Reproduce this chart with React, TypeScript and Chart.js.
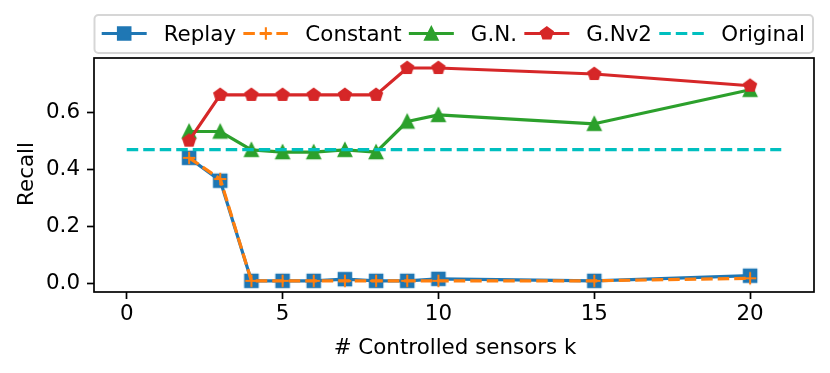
import React, { useEffect, useRef } from "react";
import { Chart, registerables } from "chart.js";

Chart.register(...registerables);

// ---------- data ----------
const kValues = [2, 3, 4, 5, 6, 7, 8, 9, 10, 15, 20];
const replayRecall = [0.44, 0.36, 0.01, 0.01, 0.01, 0.016, 0.01, 0.01, 0.017, 0.01, 0.028];
const constantRecall = [0.44, 0.366, 0.01, 0.01, 0.01, 0.01, 0.01, 0.01, 0.01, 0.01, 0.019];
const gnRecall = [0.532, 0.532, 0.468, 0.46, 0.46, 0.468, 0.46, 0.567, 0.59, 0.559, 0.678];
const gnv2Recall = [0.50, 0.66, 0.66, 0.66, 0.66, 0.66, 0.66, 0.754, 0.754, 0.733, 0.692];
const originalK = [0, 21];
const originalRecall = 0.469;
const xTicks = [0, 5, 10, 15, 20];
const yTicks = [0, 0.2, 0.4, 0.6];
const seriesNames = ["Replay", "Constant", "G.N.", "G.Nv2", "Original"];
const xTitle = "# Controlled sensors k";
const yTitle = "Recall";

// ---------- style ----------
const FF = "'DejaVu Sans', sans-serif";
const FS = 21.4;
const LW = 3.2;
const DASH = [11.5, 5];
const COLORS = ["#1f77b4", "#ff7f0e", "#2ca02c", "#d62728", "#00bfbf"];
const MS = 12.5; // marker size
const MEW = 2.08; // marker edge width

type MarkerKind = "square" | "plus" | "triangle" | "pentagon" | "none";
const MARKERS: MarkerKind[] = ["square", "plus", "triangle", "pentagon", "none"];

function drawMarkerPath(ctx: CanvasRenderingContext2D, kind: MarkerKind, cx: number, cy: number, color: string) {
  const h = MS / 2;
  ctx.save();
  ctx.fillStyle = color;
  ctx.strokeStyle = color;
  ctx.lineWidth = MEW;
  ctx.lineJoin = "miter";
  ctx.lineCap = "butt";
  ctx.beginPath();
  if (kind === "square") {
    ctx.rect(cx - h, cy - h, MS, MS);
    ctx.fill();
    ctx.stroke();
  } else if (kind === "triangle") {
    ctx.moveTo(cx, cy - h);
    ctx.lineTo(cx - h, cy + h);
    ctx.lineTo(cx + h, cy + h);
    ctx.closePath();
    ctx.fill();
    ctx.stroke();
  } else if (kind === "pentagon") {
    for (let i = 0; i < 5; i++) {
      const a = -Math.PI / 2 + (i * 2 * Math.PI) / 5;
      const px = cx + h * Math.cos(a);
      const py = cy + h * Math.sin(a);
      if (i === 0) ctx.moveTo(px, py);
      else ctx.lineTo(px, py);
    }
    ctx.closePath();
    ctx.fill();
    ctx.stroke();
  } else if (kind === "plus") {
    ctx.moveTo(cx - h, cy);
    ctx.lineTo(cx + h, cy);
    ctx.moveTo(cx, cy - h);
    ctx.lineTo(cx, cy + h);
    ctx.stroke();
  }
  ctx.restore();
}

function makeMarkerCanvas(kind: MarkerKind, color: string): HTMLCanvasElement {
  const c = document.createElement("canvas");
  c.width = 24;
  c.height = 24;
  const ctx = c.getContext("2d")!;
  drawMarkerPath(ctx, kind, 12, 12, color);
  return c;
}

const decorPlugin = {
  id: "decor",
  afterDraw(chart: any) {
    const { ctx, chartArea: a } = chart;
    ctx.save();
    // frame (spines)
    ctx.strokeStyle = "#000";
    ctx.lineWidth = 1.7;
    ctx.strokeRect(a.left, a.top, a.right - a.left, a.bottom - a.top);

    // axis titles
    ctx.fillStyle = "#000";
    ctx.font = `${FS}px ${FF}`;
    ctx.textAlign = "center";
    ctx.textBaseline = "alphabetic";
    ctx.fillText(xTitle, (a.left + a.right) / 2 + 1, 354);
    ctx.save();
    ctx.translate(33, (a.top + a.bottom) / 2 - 1);
    ctx.rotate(-Math.PI / 2);
    ctx.fillText(yTitle, 0, 0);
    ctx.restore();

    // legend
    const boxL = 94.5, boxR = 813, boxT = 15, boxB = 53;
    ctx.fillStyle = "rgba(255,255,255,0.8)";
    ctx.strokeStyle = "rgba(204,204,204,0.8)";
    ctx.lineWidth = 2;
    ctx.beginPath();
    (ctx as any).roundRect(boxL, boxT, boxR - boxL, boxB - boxT, 4);
    ctx.fill();
    ctx.stroke();

    const handleLen = 45;
    const textOff = 62;
    const startX = 101.7;
    const endX = 805;
    const widths = seriesNames.map((n) => ctx.measureText(n).width);
    const total = widths.reduce((s, w) => s + w + textOff, 0);
    const gap = (endX - startX - total) / (seriesNames.length - 1);
    const hy = 33.5;
    let x = startX;
    seriesNames.forEach((name, i) => {
      const color = COLORS[i];
      ctx.save();
      ctx.strokeStyle = color;
      ctx.lineWidth = LW;
      const dashed = i === 1 || i === 4;
      ctx.setLineDash(dashed ? DASH : []);
      ctx.lineCap = "butt";
      ctx.beginPath();
      ctx.moveTo(x, hy);
      ctx.lineTo(x + handleLen, hy);
      ctx.stroke();
      ctx.restore();
      if (MARKERS[i] !== "none") drawMarkerPath(ctx, MARKERS[i], x + handleLen / 2, hy, color);
      ctx.fillStyle = "#000";
      ctx.textAlign = "left";
      ctx.textBaseline = "alphabetic";
      ctx.fillText(name, x + textOff, 40.5);
      x += textOff + widths[i] + gap;
    });
    ctx.restore();
  },
};

export default function App() {
  const ref = useRef<HTMLCanvasElement | null>(null);

  useEffect(() => {
    document.body.style.margin = "0";
    const canvas = ref.current!;
    const seriesValues = [replayRecall, constantRecall, gnRecall, gnv2Recall];
    const datasets: any[] = seriesValues.map((vals, i) => ({
      label: seriesNames[i],
      data: kValues.map((k, j) => ({ x: k, y: vals[j] })),
      borderColor: COLORS[i],
      backgroundColor: COLORS[i],
      borderWidth: LW,
      borderDash: i === 1 ? DASH : [],
      borderJoinStyle: "round",
      borderCapStyle: "butt",
      pointStyle: makeMarkerCanvas(MARKERS[i], COLORS[i]),
      pointRadius: 7,
      tension: 0,
      order: 5 - i,
      clip: false,
    }));
    datasets.push({
      label: seriesNames[4],
      data: originalK.map((k) => ({ x: k, y: originalRecall })),
      borderColor: COLORS[4],
      backgroundColor: COLORS[4],
      borderWidth: LW,
      borderDash: DASH,
      borderCapStyle: "butt",
      pointRadius: 0,
      order: 1,
      clip: false,
    });

    const tickFont = { family: FF, size: FS };
    const chart = new Chart(canvas, {
      type: "line",
      data: { datasets },
      options: {
        animation: false,
        responsive: false,
        devicePixelRatio: 1,
        events: [],
        layout: { padding: { left: 0, right: 16, top: 58, bottom: 0 } },
        plugins: { legend: { display: false }, tooltip: { enabled: false }, title: { display: false } },
        scales: {
          x: {
            type: "linear",
            min: -1.05,
            max: 22.05,
            afterBuildTicks: (s: any) => {
              s.ticks = xTicks.map((v) => ({ value: v }));
            },
            afterFit: (s: any) => {
              s.height = 81;
            },
            ticks: { font: tickFont, color: "#000", padding: 3, maxRotation: 0, autoSkip: false, callback: (v: any) => String(v) },
            grid: { drawOnChartArea: false, drawTicks: true, tickLength: 7, tickColor: "#000", tickWidth: 1.7, color: "#000" },
            border: { display: false },
          },
          y: {
            type: "linear",
            min: -0.029,
            max: 0.789,
            afterBuildTicks: (s: any) => {
              s.ticks = yTicks.map((v) => ({ value: v }));
            },
            afterFit: (s: any) => {
              s.width = 94;
            },
            ticks: { font: tickFont, color: "#000", padding: 7, autoSkip: false, callback: (v: any) => Number(v).toFixed(1) },
            grid: { drawOnChartArea: false, drawTicks: true, tickLength: 7, tickColor: "#000", tickWidth: 1.7, color: "#000" },
            border: { display: false },
          },
        },
      },
      plugins: [decorPlugin],
    } as any);
    return () => chart.destroy();
  }, []);

  return (
    <div style={{ width: 830, height: 373, background: "#fff" }}>
      <canvas ref={ref} width={830} height={373} style={{ display: "block" }} />
    </div>
  );
}
